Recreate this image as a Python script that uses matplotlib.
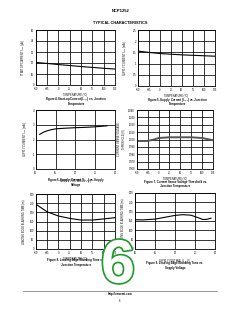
import matplotlib
matplotlib.use("Agg")
import matplotlib.pyplot as plt
import matplotlib.patheffects as pe

plt.rcParams["font.family"] = ["Liberation Sans", "DejaVu Sans"]
plt.rcParams["mathtext.fontset"] = "custom"
plt.rcParams["mathtext.rm"] = "Liberation Sans"
plt.rcParams["mathtext.it"] = "Liberation Sans:italic"
plt.rcParams["mathtext.bf"] = "Liberation Sans:bold"

W, H = 240, 310

# ---- data ----
temp = [-50, -25, 0, 25, 50, 75, 100, 125]
temp_ticks = [-50, -25, 0, 25, 50, 75, 100, 125]
vcc_ticks = [10, 15, 20, 25, 30]

icc1 = [20.5, 19.6, 18.6, 17.7, 16.8, 16.0, 15.2, 14.5]
icc2_temp = [1.56, 1.50, 1.45, 1.42, 1.39, 1.37, 1.35, 1.33]
vcc6 = [11, 12, 13, 14, 15, 17, 20, 23, 25, 28]
icc_vcc = [2.35, 2.5, 2.6, 2.67, 2.72, 2.76, 2.8, 2.83, 2.86, 2.93]
temp7 = [-50, -25, -10, 0, 25, 50, 75, 100, 125]
vlim = [0.998, 0.998, 1.000, 1.002, 1.003, 1.003, 1.003, 1.002, 0.999]
leb_temp = [245, 203, 180, 167, 158, 158, 164, 171]
vcc9 = [10, 12, 15, 18, 20, 22, 24, 26, 27, 28, 29]
leb_vcc = [157, 156, 160, 172, 180, 184, 181, 166, 158, 159, 165]

fig = plt.figure(figsize=(W / 100, H / 100), dpi=100)
fig.patch.set_facecolor("white")

FS_T = 1.9
FS_L = 1.8
FS_C = 2.05


def px_axes(x0, y0, x1, y1):
    return fig.add_axes([x0 / W, 1 - y1 / H, (x1 - x0) / W, (y1 - y0) / H])


def style(ax, xlim, ylim, xt, yt, xtl=None, ytl=None):
    ax.set_xlim(*xlim)
    ax.set_ylim(*ylim)
    ax.set_xticks(xt)
    ax.set_yticks(yt)
    if xtl is not None:
        ax.set_xticklabels(xtl)
    if ytl is not None:
        ax.set_yticklabels(ytl)
    ax.tick_params(length=0, pad=1.2, labelsize=FS_T)
    ax.grid(True, color="black", linewidth=0.55)
    for s in ax.spines.values():
        s.set_linewidth(0.6)
        s.set_color("black")


def ftext(x, y, s, **kw):
    return fig.text(x / W, 1 - y / H, s, ha="center", va="center", **kw)


# header
ftext(121, 11, "NCP1252", fontsize=3.0, fontweight="bold")
ftext(120, 22.5, "TYPICAL CHARACTERISTICS", fontsize=2.8, fontweight="bold")

# Figure 4
ax = px_axes(35.7, 30, 115, 85)
style(ax, (-50, 125), (0, 50), temp_ticks, [0, 10, 20, 30, 40, 50])
ax.plot(temp, icc1, color="black", linewidth=0.8)
ax.set_ylabel("STARTUP CURRENT I$_{CC1}$ (\u00b5A)", fontsize=FS_L, labelpad=2.5)
ax.set_xlabel("TEMPERATURE (\u00b0C)", fontsize=FS_L, labelpad=2)
ftext(76, 99, "Figure 4. Start-up Current (I$_{CC1}$) vs. Junction", fontsize=FS_C, fontweight="bold")
ftext(76, 103.5, "Temperature", fontsize=FS_C, fontweight="bold")

# Figure 5
ax = px_axes(137.7, 30, 215, 86)
style(ax, (-50, 125), (0, 2.5), temp_ticks, [0, 0.5, 1, 1.5, 2, 2.5],
      ytl=["0", "0.5", "1", "1.5", "2", "2.5"])
ax.plot(temp, icc2_temp, color="black", linewidth=0.8)
ax.set_ylabel("SUPPLY CURRENT I$_{CC2}$ (mA)", fontsize=FS_L, labelpad=2.5)
ax.set_xlabel("TEMPERATURE (\u00b0C)", fontsize=FS_L, labelpad=2)
ftext(177, 99.8, "Figure 5. Supply Current (I$_{CC2}$) vs. Junction", fontsize=FS_C, fontweight="bold")
ftext(177, 104.3, "Temperature", fontsize=FS_C, fontweight="bold")

# Figure 6
ax = px_axes(35.7, 110, 115, 169)
style(ax, (10, 30), (0, 4), vcc_ticks, [0, 1, 2, 3, 4])
ax.plot(vcc6, icc_vcc, color="black", linewidth=0.8)
ax.set_ylabel("SUPPLY CURRENT I$_{CC3}$ (mA)", fontsize=FS_L, labelpad=2.5)
ax.set_xlabel("SUPPLY VOLTAGE V$_{CC}$ (V)", fontsize=FS_L, labelpad=2)
ftext(76, 180.5, "Figure 6. Supply Current (I$_{CC3}$) vs. Supply", fontsize=FS_C, fontweight="bold")
ftext(76, 185, "Voltage", fontsize=FS_C, fontweight="bold")

# Figure 7
ax = px_axes(136.7, 110, 213, 169)
yt7 = [0.96, 0.97, 0.98, 0.99, 1.00, 1.01, 1.02, 1.03, 1.04]
style(ax, (-50, 125), (0.96, 1.04), temp_ticks, yt7,
      ytl=["%.3f" % v for v in yt7])
ax.plot(temp7, vlim, color="#555555", linewidth=1.4)
ax.set_ylabel("CURRENT SENSE VOLTAGE\nTHRESHOLD (V)", fontsize=FS_L, labelpad=2)
ax.set_xlabel("TEMPERATURE (\u00b0C)", fontsize=FS_L, labelpad=2)
ftext(175, 181.5, "Figure 7. Current Sense Voltage Threshold vs.", fontsize=FS_C, fontweight="bold")
ftext(175, 186, "Junction Temperature", fontsize=FS_C, fontweight="bold")

# Figure 8
ax = px_axes(35.7, 194, 115, 249)
style(ax, (-50, 125), (0, 300), temp_ticks, [0, 50, 100, 150, 200, 250, 300])
ax.plot(temp, leb_temp, color="black", linewidth=0.8)
ax.set_ylabel("LEADING EDGE BLANKING TIME (ns)", fontsize=FS_L, labelpad=2.5)
ax.set_xlabel("TEMPERATURE (\u00b0C)", fontsize=FS_L, labelpad=2)
ftext(76, 260.5, "Figure 8. Leading Edge Blanking Time vs.", fontsize=FS_C, fontweight="bold")
ftext(76, 265, "Junction Temperature", fontsize=FS_C, fontweight="bold")

# Figure 9
ax = px_axes(135, 193, 215, 249)
style(ax, (10, 30), (0, 300), vcc_ticks, [0, 50, 100, 150, 200, 250, 300])
ax.plot(vcc9, leb_vcc, color="black", linewidth=0.8)
ax.set_ylabel("LEADING EDGE BLANKING TIME (ns)", fontsize=FS_L, labelpad=2.5)
ax.set_xlabel("SUPPLY VOLTAGE V$_{CC}$ (V)", fontsize=FS_L, labelpad=2)
ftext(175, 263, "Figure 9. Leading Edge Blanking Time vs.", fontsize=FS_C, fontweight="bold")
ftext(175, 267.5, "Supply Voltage", fontsize=FS_C, fontweight="bold")

# footer
fig.add_artist(plt.Line2D([23 / W, 217 / W], [1 - 291 / H, 1 - 291 / H],
                          color="#444444", linewidth=0.4))
ftext(120, 294.3, "http://onsemi.com", fontsize=2.1, fontweight="bold")
ftext(120, 300.5, "6", fontsize=1.9)

# big green page-number watermark
t = ftext(118, 267, "6", fontsize=44, fontweight="bold", color="white", zorder=5)
t.set_path_effects([pe.Stroke(linewidth=2.4, foreground="#1f9a2a"), pe.Normal()])

fig.savefig("out.png", dpi=100)
